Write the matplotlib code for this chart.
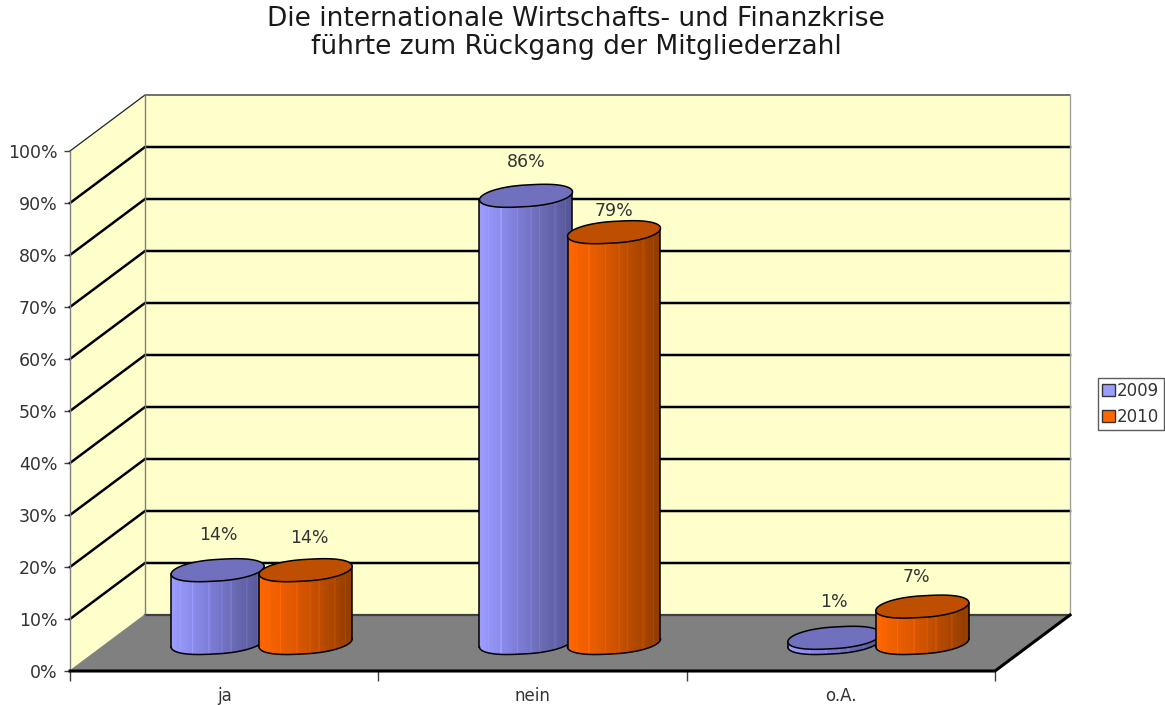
#!/usr/bin/env python3
# -*- coding: utf-8 -*-
import numpy as np
import matplotlib
matplotlib.use("Agg")
import matplotlib.pyplot as plt
from matplotlib.colors import LinearSegmentedColormap
from matplotlib.patches import Patch, Polygon

# Data
categories = ['ja', 'nein', 'o.A.']
years = ['2009', '2010']
values_2009 = [14, 86, 1]
values_2010 = [14, 79, 7]
value_labels_2009 = ['14%', '86%', '1%']
value_labels_2010 = ['14%', '79%', '7%']
y_ticks = [0, 10, 20, 30, 40, 50, 60, 70, 80, 90, 100]

W, H = 1165, 705
PX_X = 925 / 3   # pixels per category
PX_Y = 5.2       # pixels per percent
DX = 75 / PX_X   # depth of the 3d box
DY = 56 / PX_Y

WALL = '#FFFFCC'
FLOOR = '#808080'
TEXT = '#333333'
COL_2009 = ['#9C9CFF', '#8282E0', '#6A6AB4', '#555594']
COL_2010 = ['#FF6600', '#E25A00', '#B84B00', '#8F3C00']
TOP_2009 = '#7070BE'
TOP_2010 = '#BF4F00'

plt.rcParams['font.family'] = ['DejaVu Sans']

fig = plt.figure(figsize=(W / 100, H / 100), dpi=100)
ax = fig.add_axes([70 / W, (H - 671) / H, 925 / W, 520 / H])
ax.set_xlim(0, 3)
ax.set_ylim(0, 100)
ax.patch.set_visible(False)
for s in ax.spines.values():
    s.set_visible(False)


def rounder(c):
    # makes the ellipse a bit fuller at the sides
    return np.sign(c) * np.abs(c) ** 0.85


def cylinder(cx, value, cmap, top_color, z):
    # radii and tilt in data units
    a = 46.5 / PX_X
    b = 10.8 / PX_Y
    tilt = 4 / PX_Y
    base = DY / 2

    # side of the cylinder, made of vertical strips
    t = np.linspace(np.pi, 2 * np.pi, 94)
    xs = cx + a * rounder(np.cos(t))
    ys = base + tilt * np.cos(t) + b * np.sin(t)
    X = np.vstack([xs, xs])
    Y = np.vstack([ys, ys + value])
    shade = (xs[:-1] - xs[0]) / (xs[-1] - xs[0])
    # lighter stripes like the old chart renderer leaves them
    shade[9::11] = np.maximum(shade[9::11] - 0.16, 0)
    shade[14::17] = np.maximum(shade[14::17] - 0.10, 0)
    ax.pcolormesh(X, Y, shade[np.newaxis, :], cmap=cmap, vmin=0, vmax=1,
                  shading='flat', clip_on=False, zorder=z)
    ax.plot(xs, ys, color='black', lw=1.1, clip_on=False, zorder=z + 0.1)
    ax.plot([xs[0], xs[0]], [ys[0], ys[0] + value], color='black', lw=1.1,
            clip_on=False, zorder=z + 0.1)
    ax.plot([xs[-1], xs[-1]], [ys[-1], ys[-1] + value], color='black', lw=1.1,
            clip_on=False, zorder=z + 0.1)

    # top ellipse
    t = np.linspace(0, 2 * np.pi, 120)
    ex = cx + a * rounder(np.cos(t))
    ey = base + value + tilt * np.cos(t) + b * np.sin(t)
    ax.add_patch(Polygon(np.column_stack([ex, ey]), closed=True,
                         facecolor=top_color, edgecolor='black', lw=1.1,
                         clip_on=False, zorder=z + 0.2))
    return base + value


# Floor and walls
ax.add_patch(Polygon([(0, 0), (3, 0), (3 + DX, DY), (DX, DY)], closed=True,
                     facecolor=FLOOR, edgecolor='none', clip_on=False, zorder=1))
ax.add_patch(Polygon([(DX, DY), (3 + DX, DY), (3 + DX, 100 + DY), (DX, 100 + DY)],
                     closed=True, facecolor=WALL, edgecolor='none',
                     clip_on=False, zorder=1))
ax.add_patch(Polygon([(0, 0), (DX, DY), (DX, 100 + DY), (0, 100)], closed=True,
                     facecolor=WALL, edgecolor='none', clip_on=False, zorder=1))

# Grid lines, back wall and side wall
for v in y_ticks[1:-1]:
    ax.plot([0, DX, 3 + DX], [v, v + DY, v + DY], color='black', lw=1.8,
            clip_on=False, zorder=2, solid_joinstyle='miter')
ax.plot([0, DX, 3 + DX], [100, 100 + DY, 100 + DY], color='#222222', lw=0.9,
        clip_on=False, zorder=2)
ax.plot([DX, DX], [DY, 100 + DY], color='#808080', lw=1.0, clip_on=False, zorder=2)
ax.plot([3 + DX, 3 + DX], [DY, 100 + DY], color='#A0A0A0', lw=1.0, clip_on=False, zorder=2)
ax.plot([0, 0], [0, 100], color='#808080', lw=1.0, clip_on=False, zorder=2)
ax.plot([DX, 3 + DX], [DY, DY], color='#404040', lw=1.6, clip_on=False, zorder=2)
ax.plot([0, DX], [0, DY], color='#808080', lw=1.0, clip_on=False, zorder=2)
# thick front edge of the floor
ax.plot([0, 3, 3 + DX], [0, 0, DY], color='black', lw=2.2, clip_on=False, zorder=3,
        solid_joinstyle='miter')

# Cylinders
cmap_2009 = LinearSegmentedColormap.from_list('c2009', COL_2009)
cmap_2010 = LinearSegmentedColormap.from_list('c2010', COL_2010)
step = 44 / PX_X
label_dy_2009 = [25.5, 24, 26]
label_dy_2010 = [23.5, 15.5, 21.5]
label_dx_2009 = [0.5, 0, 0]
label_dx_2010 = [2.5, 0, -4.5]

for i in range(len(categories)):
    c = i + 0.5 + DX / 2
    top = cylinder(c - step, values_2009[i], cmap_2009, TOP_2009, 5 + i)
    ax.annotate(value_labels_2009[i], (c - step, top),
                xytext=(label_dx_2009[i], label_dy_2009[i]),
                textcoords='offset points', ha='center', va='center',
                fontsize=12.5, color=TEXT, annotation_clip=False, zorder=20)
    top = cylinder(c + step, values_2010[i], cmap_2010, TOP_2010, 5.5 + i)
    ax.annotate(value_labels_2010[i], (c + step, top),
                xytext=(label_dx_2010[i], label_dy_2010[i]),
                textcoords='offset points', ha='center', va='center',
                fontsize=12.5, color=TEXT, annotation_clip=False, zorder=20)

# Axes ticks
ax.set_yticks(y_ticks)
ax.set_yticklabels(['{}%'.format(v) for v in y_ticks], fontsize=12.5, color=TEXT)
ax.tick_params(axis='y', length=4, width=1, color='#404040', pad=5)
ax.set_xticks([0, 1, 2, 3])
ax.set_xticklabels([])
ax.tick_params(axis='x', which='major', length=7, width=1, color='#404040')
ax.set_xticks([0.5, 1.5, 2.5], minor=True)
ax.set_xticklabels(categories, minor=True, fontsize=12, color=TEXT)
ax.tick_params(axis='x', which='minor', length=0, pad=11.5)

# Title
fig.text(576 / W, 1 - 33 / H, 'Die internationale Wirtschafts- und Finanzkrise\nführte zum Rückgang der Mitgliederzahl',
         ha='center', va='center', fontsize=19, color='#1a1a1a', linespacing=1.1)

# Legend
handles = [Patch(facecolor=COL_2009[0], edgecolor='#333333', label=years[0]),
           Patch(facecolor=COL_2010[0], edgecolor='#333333', label=years[1])]
leg = fig.legend(handles=handles, loc='upper left',
                 bbox_to_anchor=(1098 / W, 1 - 378 / H), fontsize=12,
                 frameon=True, fancybox=False, edgecolor='#333333',
                 handlelength=0.75, handleheight=0.75, handletextpad=0.15,
                 borderpad=0.25, borderaxespad=0, labelspacing=0.45,
                 labelcolor=TEXT)
leg.get_frame().set_linewidth(1)

fig.savefig('out.png', dpi=100)
